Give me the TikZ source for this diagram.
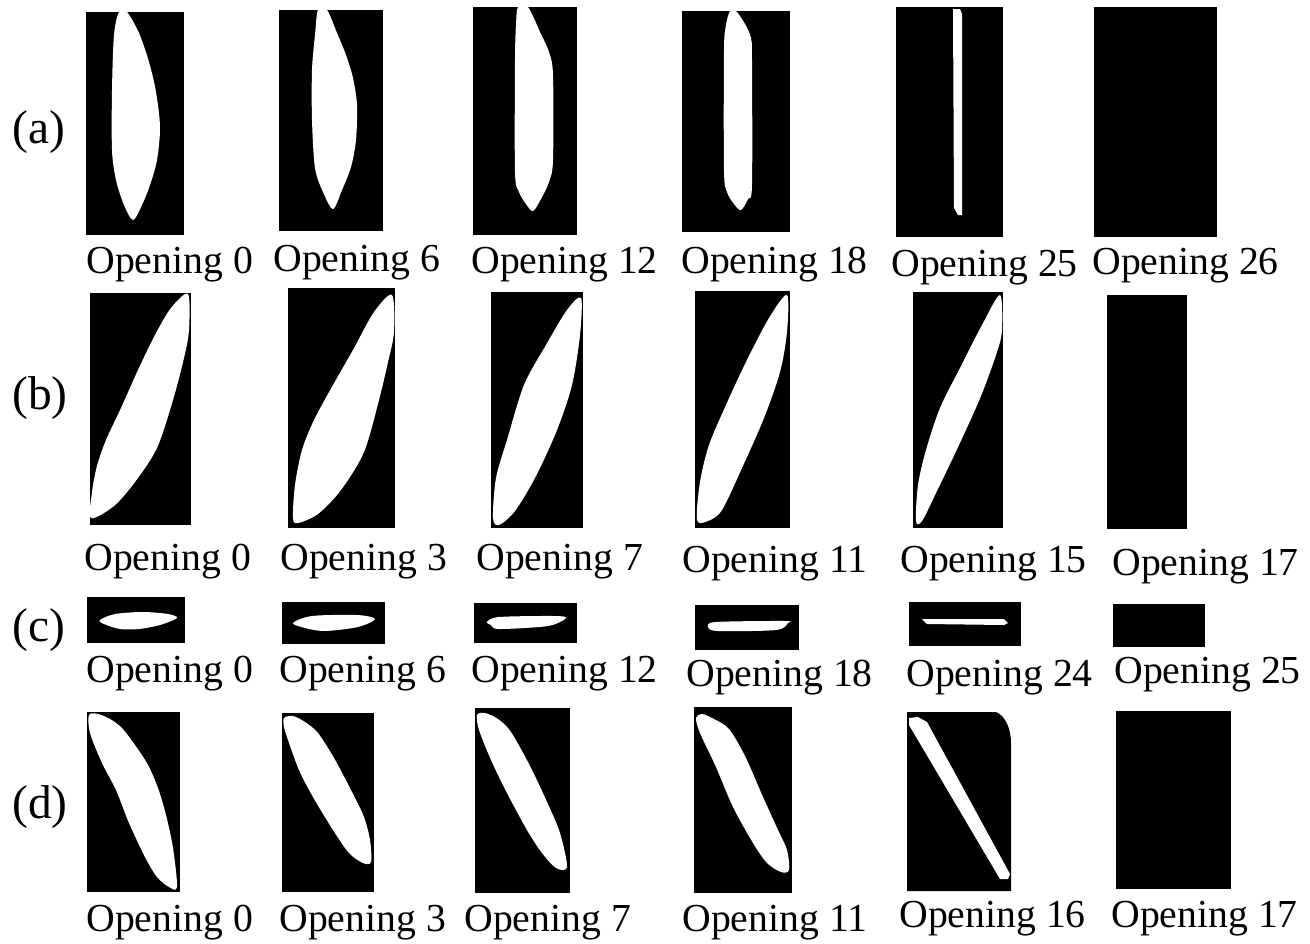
\documentclass[tikz,border=0pt]{standalone}
\usepackage{fontspec}
\setmainfont{Liberation Serif}
\begin{document}
\begin{tikzpicture}[x=0.2mm, y=-0.2mm,
  opening/.style={anchor=base west, inner sep=0pt, font=\fontsize{22.6}{26}\selectfont},
  rowlabel/.style={anchor=base west, inner sep=0pt, font=\fontsize{27}{30}\selectfont},
  blade/.style={fill=white}]
\useasboundingbox (0,0) rectangle (1310,943);

% row labels
\node[rowlabel] (ra) at (12,143) {(a)};
\node[rowlabel] (rb) at (12,409) {(b)};
\node[rowlabel] (rc) at (12,641) {(c)};
\node[rowlabel] (rd) at (12,818) {(d)};

% (a) frames
\fill[black] (86,12) rectangle (184,235);
\fill[black] (279,10) rectangle (383,231);
\fill[black] (473,7) rectangle (577,235);
\fill[black] (682,11) rectangle (790,232);
\fill[black] (896,7) rectangle (1003,237);
\fill[black] (1094,7) rectangle (1217,237);
% (a) openings
\fill[blade] plot[smooth cycle, tension=0.5] coordinates {(119,12) (127,12) (139,33) (149,62) (156,92) (160,127) (157,160) (150,185) (142,205) (133,220) (124,205) (116,180) (112,150) (112,90) (114,35)};
\fill[blade] plot[smooth cycle, tension=0.5] coordinates {(318,10) (327,10) (337,33) (346,55) (353,78) (357,105) (356,140) (351,167) (342,190) (333,209) (323,192) (315,168) (312,120) (312,70) (315,35)};
\fill[blade] plot[smooth cycle, tension=0.5] coordinates {(518,7) (528,7) (540,32) (549,52) (553,75) (553,160) (549,182) (541,199) (533,211) (526,204) (519,192) (515,172) (515,60) (516,25)};
\fill[blade] plot[smooth cycle, tension=0.5] coordinates {(730,11) (736,11) (745,24) (751,38) (752,60) (752,185) (748,199) (741,210) (734,204) (727,192) (724,170) (724,50) (726,25)};
\fill[blade] (953,9) -- (960,9) -- (962,14) -- (962,215) -- (958,215) -- (954,208) -- cycle;
\node[opening] (a0) at (86,273) {Opening 0};
\node[opening] (a6) at (273,271) {Opening 6};
\node[opening] (a12) at (471,273) {Opening 12};
\node[opening] (a18) at (681,273) {Opening 18};
\node[opening] (a25) at (891,276) {Opening 25};
\node[opening] (a26) at (1092,274) {Opening 26};

% (b) frames
\fill[black] (90,293) rectangle (191,525);
\fill[black] (288,288) rectangle (395,528);
\fill[black] (491,292) rectangle (583,528);
\fill[black] (695,291) rectangle (790,528);
\fill[black] (913,292) rectangle (1003,528);
\fill[black] (1107,295) rectangle (1187,529);
% (b) openings
\fill[blade] plot[smooth cycle, tension=0.5] coordinates {(188,294) (171,308) (155,335) (138,370) (121,408) (106,440) (97,466) (92,492) (91,518) (114,506) (135,482) (157,448) (173,400) (184,358) (189,330)};
\fill[blade] plot[smooth cycle, tension=0.5] coordinates {(392,295) (374,312) (353,350) (333,385) (314,420) (302,450) (295,485) (293,518) (298,523) (318,514) (341,490) (364,452) (379,400) (388,362) (394,332)};
\fill[blade] plot[smooth cycle, tension=0.5] coordinates {(581,298) (567,310) (546,345) (524,385) (507,440) (496,478) (493,518) (499,525) (515,511) (536,476) (557,430) (572,385) (580,335)};
\fill[blade] plot[smooth cycle, tension=0.5] coordinates {(787,295) (769,318) (746,362) (726,405) (709,445) (700,482) (697,520) (708,521) (722,510) (742,468) (764,418) (780,372) (787,332)};
\fill[blade] plot[smooth cycle, tension=0.5] coordinates {(1000,295) (982,325) (960,368) (940,408) (926,450) (918,485) (916,521) (922,521) (936,493) (959,445) (981,396) (997,352) (1002,330)};
\node[opening] (b0) at (84,570) {Opening 0};
\node[opening] (b3) at (280,570) {Opening 3};
\node[opening] (b7) at (476,570) {Opening 7};
\node[opening] (b11) at (682,572) {Opening 11};
\node[opening] (b15) at (900,572) {Opening 15};
\node[opening] (b17) at (1112,575) {Opening 17};

% (c) frames
\fill[black] (87,597) rectangle (185,643);
\fill[black] (282,602) rectangle (385,644);
\fill[black] (474,603) rectangle (577,643);
\fill[black] (695,605) rectangle (799,650);
\fill[black] (909,602) rectangle (1021,646);
\fill[black] (1113,604) rectangle (1205,647);
% (c) openings
\fill[blade] plot[smooth cycle, tension=0.5] coordinates {(100,620) (115,614) (143,612) (168,614) (177,618) (160,625) (139,629) (120,629) (104,624)};
\fill[blade] plot[smooth cycle, tension=0.5] coordinates {(293,623) (312,616) (357,615) (375,619) (358,627) (325,631) (305,628)};
\fill[blade] plot[smooth cycle, tension=0.5] coordinates {(487,622) (499,617) (554,616) (566,618) (548,626) (499,629) (491,625)};
\fill[blade] plot[smooth cycle, tension=0.5] coordinates {(708,627) (716,622) (785,621) (788,623) (776,630) (718,631)};
\fill[blade] (922,619) -- (1004,619) -- (1008,623) -- (1004,625) -- (927,624) -- cycle;
\node[opening] (c0) at (86,682) {Opening 0};
\node[opening] (c6) at (279,682) {Opening 6};
\node[opening] (c12) at (471,682) {Opening 12};
\node[opening] (c18) at (686,686) {Opening 18};
\node[opening] (c24) at (906,686) {Opening 24};
\node[opening] (c25) at (1114,683) {Opening 25};

% (d) frames
\fill[black] (87,712) rectangle (180,892);
\fill[black] (282,713) rectangle (374,892);
\fill[black] (475,708) rectangle (570,893);
\fill[black] (694,707) rectangle (792,893);
\fill[black] (907,712) -- (996,712) .. controls (1006,716) and (1011,730) .. (1011,743) -- (1011,891) -- (907,891) -- cycle;
\fill[black] (1116,711) rectangle (1231,889);
% (d) openings
\fill[blade] plot[smooth cycle, tension=0.5] coordinates {(89,715) (98,714) (110,719) (122,728) (135,745) (148,765) (158,788) (166,815) (173,848) (177,887) (169,887) (157,877) (145,857) (129,823) (116,790) (102,763) (90,733)};
\fill[blade] plot[smooth cycle, tension=0.5] coordinates {(284,718) (293,716) (305,722) (318,733) (334,758) (352,792) (364,817) (370,840) (371,862) (363,863) (349,853) (333,830) (313,797) (299,770) (288,740) (284,727)};
\fill[blade] plot[smooth cycle, tension=0.5] coordinates {(477,715) (485,713) (498,719) (511,732) (530,766) (547,802) (560,833) (567,867) (556,868) (542,853) (527,830) (507,793) (491,760) (479,730)};
\fill[blade] plot[smooth cycle, tension=0.5] coordinates {(696,718) (702,714) (714,719) (729,729) (745,756) (763,797) (778,830) (787,850) (789,870) (781,872) (767,863) (753,843) (733,807) (716,767) (700,733)};
\fill[blade] (909,718) -- (918,717) -- (927,722) -- (1010,874) -- (1008,879) -- (1000,879) -- (909,725) -- cycle;
\node[opening] (d0) at (86,931) {Opening 0};
\node[opening] (d3) at (279,931) {Opening 3};
\node[opening] (d7) at (464,931) {Opening 7};
\node[opening] (d11) at (682,931) {Opening 11};
\node[opening] (d16) at (899,927) {Opening 16};
\node[opening] (d17) at (1111,927) {Opening 17};
\end{tikzpicture}
\end{document}
